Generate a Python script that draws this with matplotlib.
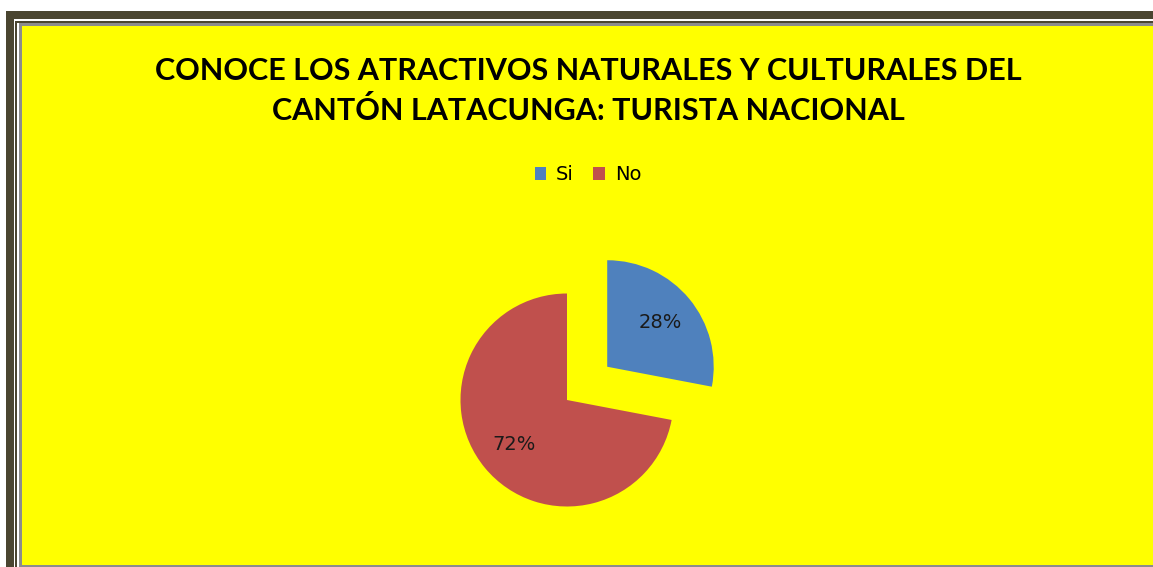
import matplotlib
matplotlib.use("Agg")
import matplotlib.pyplot as plt
from matplotlib.patches import Rectangle, Patch

# Chart data
labels = ["Si", "No"]
values = [28, 72]
colors = ["#4F81BD", "#C0504D"]
title = "CONOCE LOS ATRACTIVOS NATURALES Y CULTURALES DEL\nCANTÓN LATACUNGA: TURISTA NACIONAL"

W, H = 1153, 567
fig = plt.figure(figsize=(W / 100, H / 100), dpi=100, facecolor="white")
# one axes covering the whole figure, units = pixels (y measured from bottom)
ax = fig.add_axes([0, 0, 1, 1])


def box(x0, y0, x1, y1, color, z=0):
    # x/y given in pixels from the top-left corner
    ax.add_patch(Rectangle((x0, H - y1), x1 - x0, y1 - y0,
                           facecolor=color, edgecolor="none", zorder=z))


# Frame: thick dark band, thin dark line, gray edge, yellow plot area
dark = "#4A4530"
box(6, 11, W, H, dark, 0)
box(14, 19, W, H, "white", 1)
box(15, 21, W, H, dark, 2)
box(17, 23, W, H, "white", 3)
box(19, 23, W, H, "#8C8C8C", 4)
box(22, 26, W, 565, "#FFFF00", 5)

# Pie (explode is in data units here, i.e. pixels)
radius = 106.5
wedges, texts, autotexts = ax.pie(
    values, colors=colors, startangle=90, counterclock=False,
    explode=[0.49 * radius, 0], center=(567, H - 400), radius=radius,
    autopct="%.0f%%", pctdistance=0.65,
    textprops=dict(fontsize=14, color="#1a1a1a", family="DejaVu Sans"),
    wedgeprops=dict(linewidth=0))
for w in wedges:
    w.set_zorder(10)
for t in autotexts:
    t.set_zorder(11)

# pie() resets the limits, so set the pixel frame afterwards
ax.set_xlim(0, W)
ax.set_ylim(0, H)
ax.set_aspect("equal")
ax.axis("off")

# Title
ax.text(588, H - 91, title, ha="center", va="center", fontsize=22,
        fontweight="bold", family="Lato", linespacing=1.5, zorder=12)

# Legend
handles = [Patch(facecolor=c, edgecolor="none", label=l)
           for c, l in zip(colors, labels)]
leg = ax.legend(handles=handles, loc="center", ncol=2, frameon=False,
                bbox_to_anchor=(588, H - 175), bbox_transform=ax.transData,
                handlelength=0.6, handleheight=0.6, handletextpad=0.5,
                columnspacing=1.0, prop=dict(family="DejaVu Sans", size=14))
leg.set_zorder(12)

fig.savefig("out.png", dpi=100, facecolor="white")
